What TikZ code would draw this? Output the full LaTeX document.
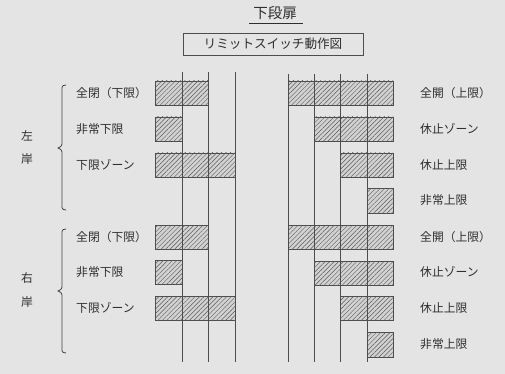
\documentclass[tikz,border=0pt]{standalone}
\usepackage{fontspec}
\newfontfamily\jp{Noto Sans CJK JP}
\usetikzlibrary{patterns.meta}
\definecolor{bg}{HTML}{E4E4E4}
\definecolor{ink}{HTML}{2E2E2E}
\begin{document}
\begin{tikzpicture}[x=1pt,y=-1pt,
  lbl/.style={font=\jp\fontsize{11.8}{13}\selectfont,text=ink,inner sep=0pt},
  bar/.style={draw=ink!85,line width=0.7pt,fill=gray!35,
    postaction={pattern={Lines[angle=45,distance=3.2pt,line width=0.45pt]},pattern color=ink!80}},
  vline/.style={draw=ink!85,line width=0.9pt},
  brace/.style={draw=ink!90,line width=0.8pt}]
\fill[bg] (0,0) rectangle (505,374);
\useasboundingbox (0,0) rectangle (505,374);
% title
\node[lbl,font=\jp\fontsize{14.5}{16}\selectfont] (title) at (275,13) {下段扉};
\draw[ink,line width=0.8pt] (249,23) -- (303,23);
\node[draw=ink!85,line width=0.8pt,minimum width=180pt,minimum height=22pt,inner sep=0pt,
  font=\jp\fontsize{12.6}{14}\selectfont,text=ink] (box) at (273,44) {リミットスイッチ動作図};
% bars left group
\foreach \n/\ya/\yb/\xb in {a1/81/105/208, a2/117/141/182, a3/153/177/235,
                           b1/225/249/208, b2/260/284/182, b3/296/320/235}
  \path[bar] (155,\ya) rectangle (\xb,\yb);
% bars right group
\foreach \n/\ya/\yb/\xa in {c1/81/105/288, c2/117/141/314, c3/153/177/340, c4/188/213/367,
                           d1/225/249/288, d2/261/285/314, d3/296/320/340, d4/332/357/367}
  \path[bar] (\xa,\ya) rectangle (393,\yb);
% vertical lines
\foreach \x in {182,208,235} \draw[vline] (\x,72) -- (\x,362);
\foreach \x in {288,314,340,367} \draw[vline] (\x,74) -- (\x,362);
% left labels
\node[lbl,anchor=west] (l1) at (76,93) {全閉（下限）};
\node[lbl,anchor=west] (l2) at (76,129) {非常下限};
\node[lbl,anchor=west] (l3) at (76,165) {下限ゾーン};
\node[lbl,anchor=west] (l4) at (76,237) {全閉（下限）};
\node[lbl,anchor=west] (l5) at (76,272) {非常下限};
\node[lbl,anchor=west] (l6) at (76,308) {下限ゾーン};
% right labels
\node[lbl,anchor=west] (r1) at (420,93) {全開（上限）};
\node[lbl,anchor=west] (r2) at (420,129) {休止ゾーン};
\node[lbl,anchor=west] (r3) at (420,165) {休止上限};
\node[lbl,anchor=west] (r4) at (420,200) {非常上限};
\node[lbl,anchor=west] (r5) at (420,237) {全開（上限）};
\node[lbl,anchor=west] (r6) at (420,272) {休止ゾーン};
\node[lbl,anchor=west] (r7) at (420,308) {休止上限};
\node[lbl,anchor=west] (r8) at (420,344) {非常上限};
% bank labels
\node[lbl] (s1) at (27,136) {左};
\node[lbl] (s2) at (27,159) {岸};
\node[lbl] (s3) at (27,278) {右};
\node[lbl] (s4) at (27,302) {岸};
% braces
\draw[brace] (66,85) .. controls (61,85) and (62,88) .. (62,93) -- (62,141)
  .. controls (62,146) .. (58,148) .. controls (62,150) .. (62,155) -- (62,202)
  .. controls (62,207) and (61,210) .. (66,210);
\draw[brace] (66,229) .. controls (61,229) and (62,232) .. (62,237) -- (62,284)
  .. controls (62,289) .. (58,291) .. controls (62,293) .. (62,298) -- (62,345)
  .. controls (62,350) and (61,353) .. (66,353);
\end{tikzpicture}
\end{document}
